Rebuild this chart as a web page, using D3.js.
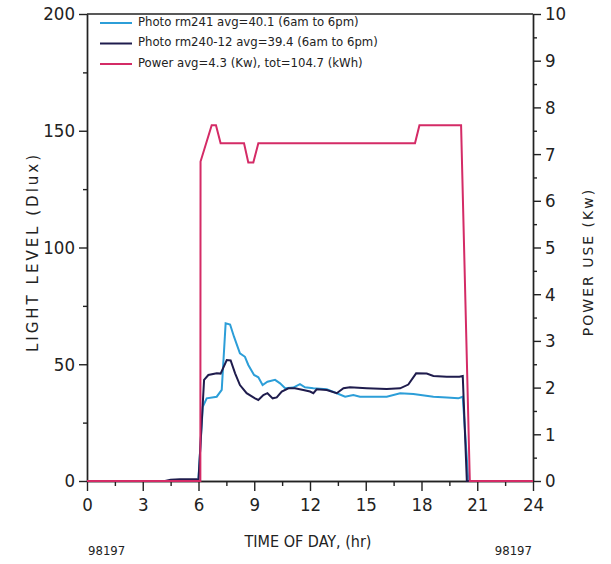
<!DOCTYPE html>
<html>
<head>
<meta charset="utf-8">
<script src="https://cdn.jsdelivr.net/npm/d3@7"></script>
<style>
  body { margin: 0; background: #fff; }
  svg { display: block; }
  .tick text { font-family: "DejaVu Sans Condensed", "DejaVu Sans", sans-serif; font-size: 18.5px; fill: #222; }
  .axis path, .axis line { stroke: #222; stroke-width: 1.4; }
</style>
</head>
<body>
<svg id="chart"></svg>
<script>
'use strict'

// hour of day for each sample
const rm241Hours = [0, 5.99, 6.23, 6.44, 6.98, 7.25, 7.46, 7.70, 7.91, 8.23, 8.50, 8.68, 8.99, 9.22, 9.45, 9.71, 10.12, 10.39, 10.66, 11.1, 11.46, 11.73, 12.18, 12.9, 13.44, 13.89, 14.33, 14.69, 16.13, 16.85, 17.56, 18.64, 19.36, 19.98, 20.22, 20.52, 24]
const rm241Lux = [0, 0, 31.8, 35.4, 36.1, 39, 67.5, 67, 61.8, 54.7, 53.2, 49.7, 45.4, 44.4, 41.1, 42.5, 43.3, 41.8, 39.7, 40.0, 41.5, 40.1, 39.7, 39.3, 37.6, 36.1, 36.8, 36.1, 36.1, 37.6, 37.3, 36.1, 35.8, 35.4, 36.1, 0, 0]

const rm240Hours = [0, 4.2, 4.5, 5.0, 5.5, 5.9, 6.0, 6.30, 6.53, 6.98, 7.19, 7.52, 7.73, 7.97, 8.23, 8.59, 9.04, 9.22, 9.49, 9.71, 9.99, 10.21, 10.48, 10.84, 11.19, 11.64, 12.0, 12.18, 12.36, 12.9, 13.44, 13.8, 14.15, 15.05, 16.13, 16.85, 17.29, 17.71, 18.28, 18.64, 19.36, 20.04, 20.22, 20.44, 24]
const rm240Lux = [0, 0, 0.5, 0.7, 0.8, 0.7, 0.4, 43.3, 45.4, 46.1, 46, 51.8, 51.6, 46.1, 41.1, 37.6, 35.4, 34.7, 36.8, 37.6, 35.4, 35.8, 38.3, 39.7, 39.7, 39.0, 38.3, 37.6, 39.3, 39.0, 37.6, 39.7, 40.1, 39.7, 39.4, 39.7, 41.3, 46.1, 46, 45.0, 44.7, 44.7, 45.0, 0, 0]

const powerHours = [0, 6.1, 6.11, 6.71, 6.94, 7.19, 8.45, 8.68, 8.95, 9.22, 17.65, 17.89, 20.13, 20.6, 24]
const powerKw = [0, 0, 6.84, 7.62, 7.62, 7.23, 7.23, 6.82, 6.82, 7.23, 7.23, 7.62, 7.62, 0, 0]

const xTicks = [0, 3, 6, 9, 12, 15, 18, 21, 24]
const leftTicks = [0, 50, 100, 150, 200]
const rightTicks = [0, 1, 2, 3, 4, 5, 6, 7, 8, 9, 10]

const legendLabels = [
  "Photo rm241 avg=40.1 (6am to 6pm)",
  "Photo rm240-12 avg=39.4 (6am to 6pm)",
  "Power avg=4.3 (Kw), tot=104.7 (kWh)"
]
const colors = ["#2c9ed8", "#1f1c4d", "#d42b66"]

const width = 611, height = 564
const plot = {left: 87, right: 533, top: 14, bottom: 481}

const svg = d3.select('#chart').attr("width", width).attr("height", height)

const x = d3.scaleLinear().domain([0, 24]).range([plot.left, plot.right])
const yL = d3.scaleLinear().domain([0, 200]).range([plot.bottom, plot.top])
const yR = d3.scaleLinear().domain([0, 10]).range([plot.bottom, plot.top])

// top frame line
svg.append("line")
  .attr("x1", plot.left).attr("x2", plot.right)
  .attr("y1", plot.top).attr("y2", plot.top)
  .attr("stroke", "#222").attr("stroke-width", 1.4)

// x axis, major + minor ticks
svg.append("g").attr("class", "axis")
  .attr("transform", "translate(0," + plot.bottom + ")")
  .call(d3.axisBottom(x).tickValues(xTicks).tickSize(10).tickSizeOuter(0).tickPadding(7))
svg.append("g").attr("class", "axis")
  .attr("transform", "translate(0," + plot.bottom + ")")
  .call(d3.axisBottom(x).tickValues(d3.range(1.5, 24, 3)).tickSize(5).tickSizeOuter(0).tickFormat(""))

// left axis
svg.append("g").attr("class", "axis")
  .attr("transform", "translate(" + plot.left + ",0)")
  .call(d3.axisLeft(yL).tickValues(leftTicks).tickSize(8).tickSizeOuter(0).tickPadding(4))
svg.append("g").attr("class", "axis")
  .attr("transform", "translate(" + plot.left + ",0)")
  .call(d3.axisLeft(yL).tickValues(d3.range(25, 200, 50)).tickSize(4).tickSizeOuter(0).tickFormat(""))

// right axis
svg.append("g").attr("class", "axis")
  .attr("transform", "translate(" + plot.right + ",0)")
  .call(d3.axisRight(yR).tickValues(rightTicks).tickSize(8).tickSizeOuter(0).tickPadding(4))
svg.append("g").attr("class", "axis")
  .attr("transform", "translate(" + plot.right + ",0)")
  .call(d3.axisRight(yR).tickValues(d3.range(0.5, 10, 1)).tickSize(4).tickSizeOuter(0).tickFormat(""))

svg.selectAll(".domain").attr("stroke-width", 1.6)

// series
const lineL = (hours) => d3.line().x((d, i) => x(hours[i])).y(d => yL(d))
const lineR = (hours) => d3.line().x((d, i) => x(hours[i])).y(d => yR(d))

svg.append("path").datum(rm241Lux)
  .attr("d", lineL(rm241Hours))
  .attr("fill", "none").attr("stroke", colors[0]).attr("stroke-width", 2)
svg.append("path").datum(rm240Lux)
  .attr("d", lineL(rm240Hours))
  .attr("fill", "none").attr("stroke", colors[1]).attr("stroke-width", 2)
svg.append("path").datum(powerKw)
  .attr("d", lineR(powerHours))
  .attr("fill", "none").attr("stroke", colors[2]).attr("stroke-width", 2)

// legend
const legend = svg.append("g")
legendLabels.forEach((label, i) => {
  const ly = 21 + i * 20.5
  legend.append("line")
    .attr("x1", 100).attr("x2", 132).attr("y1", ly + 2).attr("y2", ly + 2)
    .attr("stroke", colors[i]).attr("stroke-width", 2)
  legend.append("text")
    .attr("x", 138).attr("y", ly)
    .attr("dy", "0.35em")
    .attr("font-family", "DejaVu Sans Condensed, DejaVu Sans, sans-serif")
    .attr("font-size", 13)
    .attr("fill", "#222")
    .text(label)
})

// axis titles
svg.append("text")
  .attr("transform", "translate(38," + 252 + ") rotate(-90)")
  .attr("text-anchor", "middle")
  .attr("font-family", "DejaVu Sans, sans-serif")
  .attr("font-size", 15)
  .attr("letter-spacing", 3)
  .attr("fill", "#222")
  .text("LIGHT LEVEL (Dlux)")

svg.append("text")
  .attr("transform", "translate(593," + 262 + ") rotate(-90)")
  .attr("text-anchor", "middle")
  .attr("font-family", "DejaVu Sans, sans-serif")
  .attr("font-size", 14)
  .attr("letter-spacing", 2)
  .attr("fill", "#222")
  .text("POWER USE (Kw)")

svg.append("text")
  .attr("x", 308).attr("y", 547)
  .attr("text-anchor", "middle")
  .attr("font-family", "DejaVu Sans Condensed, DejaVu Sans, sans-serif")
  .attr("font-size", 16)
  .attr("fill", "#222")
  .text("TIME OF DAY, (hr)")

svg.append("text")
  .attr("x", 88).attr("y", 555)
  .attr("font-family", "DejaVu Sans Condensed, DejaVu Sans, sans-serif")
  .attr("font-size", 13)
  .attr("fill", "#222")
  .text("98197")
svg.append("text")
  .attr("x", 532).attr("y", 555)
  .attr("text-anchor", "end")
  .attr("font-family", "DejaVu Sans Condensed, DejaVu Sans, sans-serif")
  .attr("font-size", 13)
  .attr("fill", "#222")
  .text("98197")
</script>
</body>
</html>
